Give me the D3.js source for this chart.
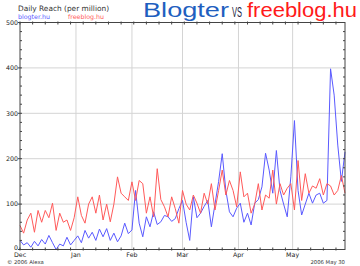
<!DOCTYPE html>
<html>
<head>
<meta charset="utf-8">
<script src="https://cdn.jsdelivr.net/npm/d3@7"></script>
<style>
  body { margin: 0; background: #fff; }
  svg { display: block; font-family: "DejaVu Sans", Verdana, sans-serif; }
</style>
</head>
<body>
<div id="chart"></div>
<script>
// sampled every 2 days starting 2005-12-01
const startDate = new Date(2005, 11, 1)
const endDate = new Date(2006, 4, 30)
const stepDays = 2

const blogter = [20, 10, 15, 5, 18, 8, 22, 12, 31, 15, 0, 12, 8, 27, 10, 20, 30, 15, 42, 25,
  38, 20, 45, 28, 46, 20, 36, 17, 30, 58, 35, 43, 130, 58, 28, 72, 50, 83, 55, 61,
  75, 72, 62, 68, 90, 108, 60, 20, 116, 70, 80, 95, 108, 50, 100, 150, 211, 130, 83, 72,
  91, 102, 60, 80, 54, 102, 110, 138, 212, 175, 124, 218, 130, 100, 72, 160, 284, 130, 76, 100,
  124, 102, 120, 124, 102, 108, 398, 340, 230, 150, 215]

const freeblog = [53, 36, 65, 80, 38, 86, 60, 86, 70, 102, 42, 80, 60, 65, 42, 70, 116, 75, 58, 100,
  116, 80, 120, 65, 100, 61, 100, 160, 124, 116, 108, 149, 108, 152, 145, 80, 116, 72, 178, 110,
  94, 72, 116, 90, 58, 130, 100, 87, 120, 102, 80, 124, 100, 145, 87, 130, 175, 120, 152, 130,
  94, 171, 116, 124, 80, 100, 145, 87, 120, 113, 175, 100, 145, 120, 135, 145, 87, 196, 108, 167,
  124, 140, 135, 156, 120, 145, 140, 120, 130, 163, 124]

const yTicks = [0, 100, 200, 300, 400, 500]
const monthTicks = [new Date(2005, 11, 1), new Date(2006, 0, 1), new Date(2006, 1, 1),
  new Date(2006, 2, 1), new Date(2006, 3, 1), new Date(2006, 4, 1)]
const seriesNames = ['blogter.hu', 'freeblog.hu']
const seriesColors = ['#5a5aff', '#ff5a5a']

const width = 360
const height = 266
const plotL = 20, plotR = 345, plotT = 22.5, plotB = 249.5

const svg = d3.select('#chart').append('svg')
  .attr('width', width)
  .attr('height', height)

const x = d3.scaleTime().domain([startDate, endDate]).range([plotL, plotR])
const y = d3.scaleLinear().domain([0, 500]).range([plotB, plotT])

// grid
svg.append('g').selectAll('line')
  .data(yTicks.slice(1, -1))
  .enter().append('line')
  .attr('x1', plotL).attr('x2', plotR)
  .attr('y1', d => y(d)).attr('y2', d => y(d))
  .attr('stroke', '#d4d4d4')
svg.append('g').selectAll('line')
  .data(monthTicks.slice(1))
  .enter().append('line')
  .attr('x1', d => x(d)).attr('x2', d => x(d))
  .attr('y1', plotT).attr('y2', plotB)
  .attr('stroke', '#d4d4d4')

// lines
const data = [blogter, freeblog]
const line = d3.line()
  .x((d, i) => x(d3.timeDay.offset(startDate, i * stepDays)))
  .y(d => y(d))

svg.append('g').selectAll('path')
  .data(data)
  .enter().append('path')
  .attr('d', d => line(d))
  .attr('fill', 'none')
  .attr('stroke', (d, i) => seriesColors[i])
  .attr('stroke-width', 1)
  .attr('stroke-linejoin', 'round')

// frame
svg.append('rect')
  .attr('x', plotL).attr('y', plotT)
  .attr('width', plotR - plotL).attr('height', plotB - plotT)
  .attr('fill', 'none')
  .attr('stroke', '#444')
  .attr('stroke-width', 1)

// y axis ticks (left and right, minor every 20)
const minorY = d3.range(0, 501, 20)
svg.append('g').selectAll('line')
  .data(minorY)
  .enter().append('line')
  .attr('x1', d => d % 100 === 0 ? plotL - 2 : plotL)
  .attr('x2', plotL + 2)
  .attr('y1', d => y(d)).attr('y2', d => y(d))
  .attr('stroke', '#444')
svg.append('g').selectAll('line')
  .data(minorY)
  .enter().append('line')
  .attr('x1', plotR - 2).attr('x2', plotR)
  .attr('y1', d => y(d)).attr('y2', d => y(d))
  .attr('stroke', '#444')

svg.append('g').selectAll('text')
  .data(yTicks)
  .enter().append('text')
  .attr('x', plotL - 2)
  .attr('y', d => y(d) + (d === 0 ? 0.5 : 2.3))
  .attr('text-anchor', 'end')
  .attr('font-size', 6.3)
  .attr('fill', '#222')
  .text(d => d)

// weekly ticks top and bottom
const weeks = d3.timeDay.range(startDate, endDate, 7)
svg.append('g').selectAll('line')
  .data(weeks)
  .enter().append('line')
  .attr('x1', d => x(d)).attr('x2', d => x(d))
  .attr('y1', plotB - 2).attr('y2', plotB + 1)
  .attr('stroke', '#444')
svg.append('g').selectAll('line')
  .data(weeks)
  .enter().append('line')
  .attr('x1', d => x(d)).attr('x2', d => x(d))
  .attr('y1', plotT - 1).attr('y2', plotT + 2)
  .attr('stroke', '#444')

// month labels
svg.append('g').selectAll('text')
  .data(monthTicks)
  .enter().append('text')
  .attr('x', d => x(d))
  .attr('y', plotB + 7.5)
  .attr('text-anchor', 'middle')
  .attr('font-size', 6.3)
  .attr('fill', '#222')
  .text(d => d3.timeFormat('%b')(d))

// header
svg.append('text')
  .attr('x', 18).attr('y', 10.5)
  .attr('font-size', 7.4)
  .attr('fill', '#333')
  .text('Daily Reach (per million)')

svg.append('g').selectAll('text')
  .data(seriesNames)
  .enter().append('text')
  .attr('x', (d, i) => 18 + i * 50)
  .attr('y', 19)
  .attr('font-size', 6.3)
  .attr('fill', (d, i) => seriesColors[i])
  .text(d => d)

// big title
const titleParts = [
  { t: 'Blogter', x: 143, w: 86, c: '#1f5fbf', s: 20 },
  { t: 'VS', x: 232, w: 10, c: '#1a2340', s: 14 },
  { t: 'freeblog.hu', x: 247, w: 110, c: '#ff1a1a', s: 20 }
]
svg.append('g').selectAll('text')
  .data(titleParts)
  .enter().append('text')
  .attr('x', d => d.x)
  .attr('y', 16.5)
  .attr('font-family', '"Liberation Sans", Arial, sans-serif')
  .attr('font-size', d => d.s)
  .attr('fill', d => d.c)
  .attr('textLength', d => d.w)
  .attr('lengthAdjust', 'spacingAndGlyphs')
  .text(d => d.t)

// footer
svg.append('text')
  .attr('x', 7).attr('y', 264)
  .attr('font-size', 5.3)
  .attr('fill', '#333')
  .text('© 2006 Alexa')
svg.append('text')
  .attr('x', plotR).attr('y', 264)
  .attr('text-anchor', 'end')
  .attr('font-size', 5.3)
  .attr('fill', '#333')
  .text('2006 May 30')
</script>
</body>
</html>
